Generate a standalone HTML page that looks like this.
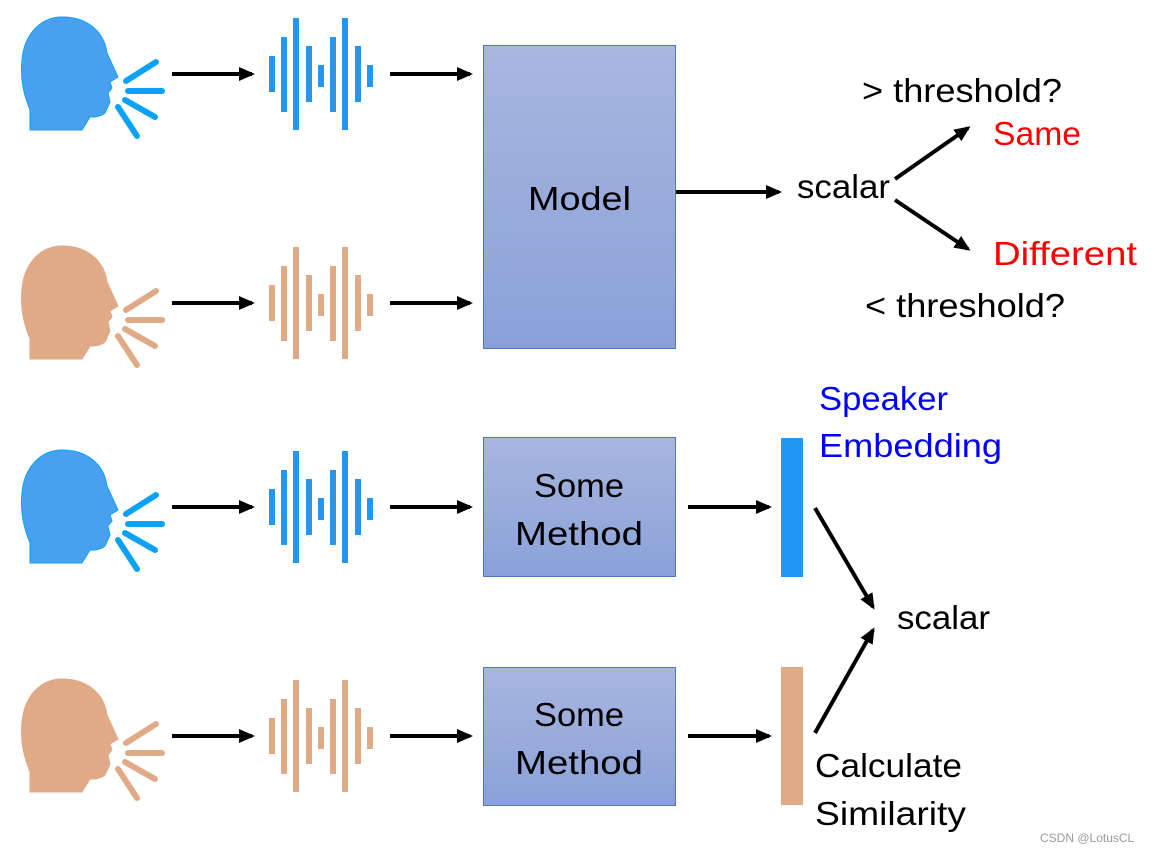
<!DOCTYPE html>
<html><head><meta charset="utf-8"><style>
html,body{margin:0;padding:0;background:#fff;}
svg{display:block;}
text{font-family:"Liberation Sans",sans-serif;font-size:33px;}
</style></head><body>
<svg width="1157" height="852" viewBox="0 0 1157 852" xmlns="http://www.w3.org/2000/svg">
<defs>
<linearGradient id="g" x1="0" y1="0" x2="0" y2="1"><stop offset="0" stop-color="#a8b6e0"/><stop offset="1" stop-color="#8aa1d8"/></linearGradient>
<marker id="ah" markerWidth="16" markerHeight="14" refX="13" refY="7" orient="auto" markerUnits="userSpaceOnUse" viewBox="0 0 16 14"><path d="M0,0 L16,7 L0,14 z" fill="#000"/></marker>
<g id="head">
<path d="M30,130 L30,110 C24,95 20,80 22,60 C24,35 40,18 60,17 C85,16 104,30 107,53 L118,77 L110,82 L112,88 L108,93 L110,102 L105,113 C100,117 95,117 90,117 L82,130 Z"/>
<g fill="none" stroke-width="6" stroke-linecap="round">
<line x1="126" y1="81" x2="156" y2="62"/><line x1="128" y1="91" x2="162" y2="91"/><line x1="125" y1="100" x2="155" y2="117"/><line x1="118" y1="107" x2="137" y2="136"/>
</g>
</g>
<g id="wave">
<rect x="269" y="56" width="6" height="36"/><rect x="281" y="37" width="6" height="75"/><rect x="293" y="18" width="6" height="112"/><rect x="306" y="46" width="6" height="56"/><rect x="318" y="65" width="6" height="22"/><rect x="330" y="37" width="6" height="75"/><rect x="342" y="18" width="6" height="112"/><rect x="355" y="46" width="6" height="56"/><rect x="367" y="65" width="6" height="22"/>
</g>
</defs>
<g fill="#4aa0f0" stroke="#0aa2f5"><use href="#head"/></g>
<g fill="#e0aa86" stroke="#e0aa86"><use href="#head" y="229"/></g>
<g fill="#4aa0f0" stroke="#0aa2f5"><use href="#head" y="433"/></g>
<g fill="#e0aa86" stroke="#e0aa86"><use href="#head" y="662"/></g>
<g fill="#2196f3"><use href="#wave"/><use href="#wave" y="433"/></g>
<g fill="#e0aa86"><use href="#wave" y="229"/><use href="#wave" y="662"/></g>
<g stroke="#000" stroke-width="4" marker-end="url(#ah)">
<line x1="172" y1="74" x2="252" y2="74"/><line x1="390" y1="74" x2="470" y2="74"/>
<line x1="172" y1="303" x2="252" y2="303"/><line x1="390" y1="303" x2="470" y2="303"/>
<line x1="172" y1="507" x2="252" y2="507"/><line x1="390" y1="507" x2="470" y2="507"/>
<line x1="172" y1="736" x2="252" y2="736"/><line x1="390" y1="736" x2="470" y2="736"/>
<line x1="676" y1="192" x2="779" y2="192"/>
<line x1="895" y1="179" x2="968" y2="128"/><line x1="895" y1="200" x2="968" y2="249"/>
<line x1="688" y1="507" x2="769" y2="507"/><line x1="688" y1="736" x2="769" y2="736"/>
<line x1="815" y1="508" x2="873" y2="607"/><line x1="815" y1="733" x2="873" y2="630"/>
</g>
<g fill="url(#g)" stroke="#4f76c0" stroke-width="1">
<rect x="483.5" y="45.5" width="192" height="303"/>
<rect x="483.5" y="437.5" width="192" height="139"/>
<rect x="483.5" y="667.5" width="192" height="138"/>
</g>
<rect x="781" y="438" width="22" height="139" fill="#2196f3"/>
<rect x="781" y="667" width="22" height="138" fill="#e0aa86"/>
<g fill="#000">
<text x="528" y="210" textLength="103" lengthAdjust="spacingAndGlyphs">Model</text>
<text x="534" y="497" textLength="90" lengthAdjust="spacingAndGlyphs">Some</text>
<text x="515" y="545" textLength="128" lengthAdjust="spacingAndGlyphs">Method</text>
<text x="534" y="726" textLength="90" lengthAdjust="spacingAndGlyphs">Some</text>
<text x="515" y="774" textLength="128" lengthAdjust="spacingAndGlyphs">Method</text>
<text x="862" y="102" textLength="200" lengthAdjust="spacingAndGlyphs">&gt; threshold?</text>
<text x="797" y="198" textLength="93" lengthAdjust="spacingAndGlyphs">scalar</text>
<text x="865" y="317" textLength="200" lengthAdjust="spacingAndGlyphs">&lt; threshold?</text>
<text x="897" y="629" textLength="93" lengthAdjust="spacingAndGlyphs">scalar</text>
<text x="815" y="777" textLength="147" lengthAdjust="spacingAndGlyphs">Calculate</text>
<text x="815" y="825" textLength="151" lengthAdjust="spacingAndGlyphs">Similarity</text>
</g>
<g fill="#ff0000">
<text x="993" y="145" textLength="88" lengthAdjust="spacingAndGlyphs">Same</text>
<text x="993" y="265" textLength="144" lengthAdjust="spacingAndGlyphs">Different</text>
</g>
<g fill="#0000ff">
<text x="819" y="410" textLength="129" lengthAdjust="spacingAndGlyphs">Speaker</text>
<text x="819" y="457" textLength="183" lengthAdjust="spacingAndGlyphs">Embedding</text>
</g>
<text x="1040" y="842" style="font-size:12px" fill="#999">CSDN @LotusCL</text>
</svg>
</body></html>
